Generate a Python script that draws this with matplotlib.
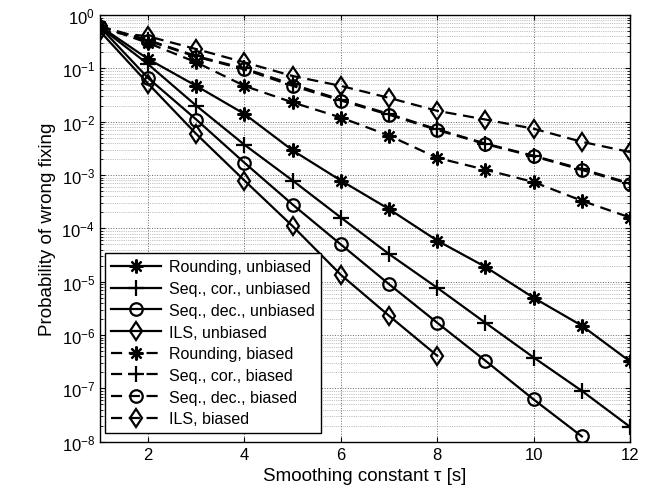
import matplotlib
matplotlib.use("Agg")
import matplotlib.pyplot as plt
import numpy as np

plt.rcParams['font.family'] = ['Liberation Sans', 'DejaVu Sans']

tau = [1, 2, 3, 4, 5, 6, 7, 8, 9, 10, 11, 12]
tau_dec = tau[:11]
tau_ils = tau[:8]

# unbiased
rounding_unb = [0.62, 0.15, 0.047, 0.014, 2.9e-3, 7.9e-4, 2.3e-4, 5.9e-5, 1.9e-5, 5.0e-6, 1.5e-6, 3.2e-7]
seqcor_unb = [0.6, 0.12, 0.02, 3.7e-3, 7.9e-4, 1.6e-4, 3.3e-5, 7.7e-6, 1.7e-6, 3.8e-7, 9.0e-8, 1.9e-8]
seqdec_unb = [0.6, 0.066, 0.011, 1.7e-3, 2.8e-4, 5.0e-5, 9.0e-6, 1.7e-6, 3.3e-7, 6.2e-8, 1.26e-8]
ils_unb = [0.5, 0.052, 5.9e-3, 7.9e-4, 1.1e-4, 1.35e-5, 2.3e-6, 4.1e-7]

# biased
rounding_b = [0.62, 0.3, 0.13, 0.047, 0.023, 0.012, 5.5e-3, 2.1e-3, 1.26e-3, 7.4e-4, 3.3e-4, 1.6e-4]
seqcor_b = [0.62, 0.34, 0.17, 0.1, 0.05, 0.026, 0.014, 7.2e-3, 3.9e-3, 2.3e-3, 1.3e-3, 7.0e-4]
seqdec_b = [0.6, 0.33, 0.165, 0.096, 0.047, 0.025, 0.0135, 7.0e-3, 3.8e-3, 2.25e-3, 1.25e-3, 6.8e-4]
ils_b = [0.5, 0.4, 0.23, 0.13, 0.072, 0.047, 0.028, 0.016, 0.011, 7.4e-3, 4.2e-3, 2.7e-3]

labels = ["Rounding, unbiased", "Seq., cor., unbiased", "Seq., dec., unbiased", "ILS, unbiased",
          "Rounding, biased", "Seq., cor., biased", "Seq., dec., biased", "ILS, biased"]

fig = plt.figure(figsize=(6.57, 5.02), dpi=100)
ax = fig.add_axes([0.152, 0.118, 0.807, 0.85])

star = (8, 2, 0)
series = [
    (tau, rounding_unb, star, '-'),
    (tau, seqcor_unb, '+', '-'),
    (tau_dec, seqdec_unb, 'o', '-'),
    (tau_ils, ils_unb, 'd', '-'),
    (tau, rounding_b, star, '--'),
    (tau, seqcor_b, '+', '--'),
    (tau, seqdec_b, 'o', '--'),
    (tau, ils_b, 'd', '--'),
]
msizes = {'d': 9.5, 'o': 9, '+': 11}
for (x, y, m, ls), lab in zip(series, labels):
    ms = msizes.get(m, 10) if isinstance(m, str) else 10
    ax.plot(x, y, color='black', linestyle=ls, linewidth=1.6, marker=m,
            markersize=ms, markerfacecolor='none', markeredgewidth=1.6,
            label=lab, dashes=(5, 3) if ls == '--' else (None, None))

ax.set_yscale('log')
ax.set_xlim(1, 12)
ax.set_ylim(1e-8, 1)
ax.set_xticks([2, 4, 6, 8, 10, 12])
ax.set_yticks([10.0**k for k in range(-8, 1)])
ax.grid(True, which='major', linestyle=':', color='#666666', linewidth=0.7)
ax.grid(True, which='minor', linestyle=':', color='#888888', linewidth=0.5)
ax.tick_params(which='both', direction='in', labelsize=12, top=True, right=True)
for s in ax.spines.values():
    s.set_linewidth(1.0)

ax.set_xlabel("Smoothing constant \u03c4 [s]", fontsize=13.5)
ax.set_ylabel("Probability of wrong fixing", fontsize=13.5)

leg = ax.legend(loc='lower left', bbox_to_anchor=(0.009, 0.021), borderaxespad=0,
                fontsize=11.5, frameon=True, fancybox=False,
                edgecolor='black', framealpha=1, handlelength=3.1,
                handletextpad=0.5, labelspacing=0.42, borderpad=0.4)
leg.get_frame().set_linewidth(1.0)

fig.savefig("out.png", dpi=100)
